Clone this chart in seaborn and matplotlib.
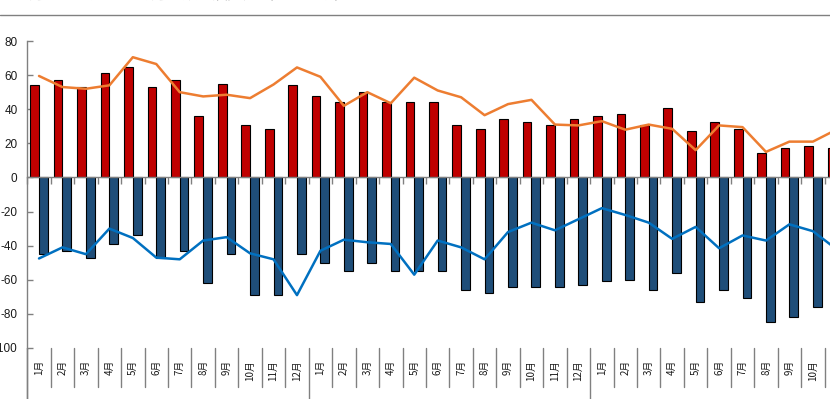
import numpy as np
import pandas as pd
import matplotlib
matplotlib.use('Agg')
import matplotlib.pyplot as plt
import matplotlib.transforms as mtransforms
from matplotlib.lines import Line2D
import seaborn as sns

# month labels: two full years plus Jan-Nov of the third
months = [f"{m}月" for m in range(1, 13)] * 2 + [f"{m}月" for m in range(1, 12)]

# red bars (positive) and blue bars (negative)
new_count = [54, 57, 53, 61, 64.5, 53, 57, 36, 54.5, 30.5, 28.5, 54,
             47.5, 44, 50, 44.5, 44, 44.5, 30.5, 28.5, 34, 32.5, 30.5, 34,
             36, 37, 31, 41, 27, 32.5, 28.5, 14.5, 17, 18.5, 17.5]
closed_count = [-45, -43, -47.5, -39, -33.5, -47.5, -43, -62, -45, -69, -69, -45,
                -50, -55, -50, -55, -55, -55, -66, -68, -64, -64, -64, -63,
                -61, -60, -66, -56, -73, -66, -70.5, -84.5, -82, -76, -45]

# orange and blue lines
new_trend = [59.5, 53, 52, 54, 70.5, 66.5, 50, 47.5, 48.5, 46.5, 54.5, 64.5,
             59, 42, 50, 43.5, 58.5, 51, 47, 36.5, 43, 45.5, 31, 30.5,
             33, 28, 31, 28.5, 16, 30.5, 29.5, 15, 21, 21, 28]
closed_trend = [-47.5, -41, -45, -30, -35.5, -47, -48, -37, -35, -44.5, -48, -69,
                -43, -36.5, -38, -39, -57, -37, -41, -48, -32, -26.5, -31, -24.5,
                -18, -22, -26.5, -36, -29, -41.5, -34, -37, -27.5, -31.5, -42]

sns.set_theme(style='white')
plt.rcParams['font.family'] = ['Liberation Sans', 'Noto Sans CJK SC', 'DejaVu Sans']
plt.rcParams['axes.unicode_minus'] = False

W, H = 830, 399
n = len(months)
gray = '#808080'

fig = plt.figure(figsize=(W / 100, H / 100), dpi=100)
ax_left = 27.3 / W
ax_h = 307 / H
ax = fig.add_axes([ax_left, (H - 348) / H, 1 - ax_left, ax_h])

idx = np.arange(n)
df = pd.DataFrame({
    'idx': np.concatenate([idx, idx]),
    'value': new_count + closed_count,
    'series': ['新增'] * n + ['退出'] * n,
})
sns.barplot(data=df, x='idx', y='value', hue='series',
            palette=['#C00000', '#1F4E79'], saturation=1, width=0.74,
            edgecolor='black', linewidth=0.8, errorbar=None, legend=False, ax=ax)
sns.lineplot(x=idx, y=new_trend, color='#ED7D31', linewidth=1.8, ax=ax)
sns.lineplot(x=idx, y=closed_trend, color='#0070C0', linewidth=1.8, ax=ax)

ax.set_xlabel('')
ax.set_ylabel('')

for s in ['top', 'right']:
    ax.spines[s].set_visible(False)
ax.spines['left'].set_color(gray)
ax.spines['left'].set_linewidth(1)
ax.spines['bottom'].set_position(('data', 0))
ax.spines['bottom'].set_color(gray)
ax.spines['bottom'].set_linewidth(1)

ax.set_xticks(np.arange(-0.5, n, 1))
ax.tick_params(axis='x', direction='out', length=5, width=1, color=gray,
               labelbottom=False, bottom=True)
ax.set_yticks(range(-100, 81, 20))
ax.tick_params(axis='y', direction='in', length=4, width=1, color=gray,
               pad=7, labelsize=8.5, labelcolor='#1a1a1a', left=True)

# limits after ticks, so the ticks don't widen the view
ax.set_xlim(-0.5, -0.5 + (W - 27.3) / 23.45)
ax.set_ylim(-100, 80)

# category band below the plot
blend = mtransforms.blended_transform_factory(ax.transData, ax.transAxes)
ax.plot([-0.5, -0.5], [0, -0.3], color=gray, lw=1, transform=blend, clip_on=False)
for k in range(n + 1):
    b = k - 0.5
    low = -0.3 if k % 12 == 0 else -(387 - 348) / 307
    ax.plot([b, b], [0, low], color=gray, lw=1, transform=blend, clip_on=False)
for i, lab in enumerate(months):
    ax.text(i, -(360 - 348) / 307, lab, rotation=90, ha='center', va='top',
            fontsize=7, color='#1a1a1a', transform=blend, clip_on=False,
            family=['Noto Sans CJK SC', 'DejaVu Sans'])

# title rule and the cut-off title above it
fig.add_artist(Line2D([0, 1], [1 - 15 / H] * 2, color=gray, lw=1,
                      transform=fig.transFigure))
fig.text(0.0, 1 + 1 / H, '图：近三年每月新增与退出数量及趋势（单位：家）',
         fontsize=11, va='baseline', ha='left', color='#1a1a1a',
         family=['Noto Sans CJK SC', 'DejaVu Sans'])

fig.savefig('out.png', dpi=100)
